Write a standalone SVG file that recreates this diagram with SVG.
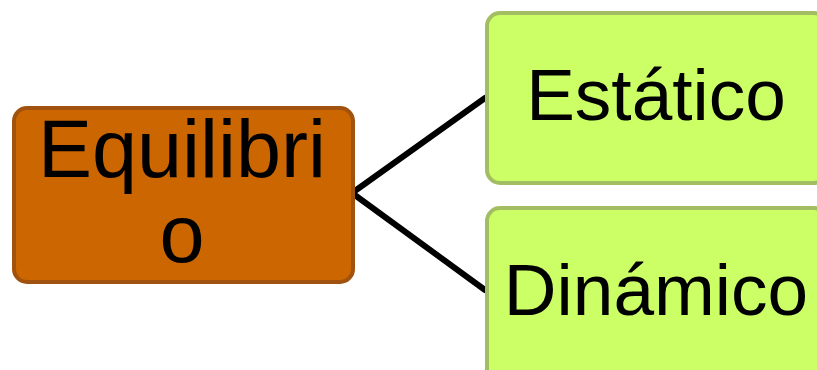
<svg xmlns="http://www.w3.org/2000/svg" width="817" height="370" viewBox="0 0 817 370">
<style>
.root{fill:#CC6600;stroke:#A0520E;stroke-width:4}
.leaf{fill:#CCFF66;stroke:#A3BE62;stroke-width:4}
.lbl{font-family:"Liberation Sans",Arial,sans-serif;fill:#000;text-anchor:middle}
.conn{stroke:#000;stroke-width:6;fill:none;stroke-linecap:round}
</style>
<rect x="0" y="0" width="817" height="370" fill="#fff"/>
<g id="connectors">
<line class="conn" x1="352" y1="193" x2="485" y2="98"/>
<line class="conn" x1="352" y1="193" x2="485" y2="290"/>
</g>
<g id="node-equilibrio">
<rect class="root" x="14" y="108" width="339" height="174" rx="13"/>
<text class="lbl" x="182" y="177" font-size="81">Equilibri</text>
<text class="lbl" x="182" y="262" font-size="81">o</text>
</g>
<g id="node-estatico">
<rect class="leaf" x="487" y="13" width="340" height="170" rx="13"/>
<text class="lbl" x="656" y="120" font-size="73">Estático</text>
</g>
<g id="node-dinamico">
<rect class="leaf" x="487" y="208" width="340" height="175" rx="13"/>
<text class="lbl" x="656" y="315" font-size="73">Dinámico</text>
</g>
</svg>
